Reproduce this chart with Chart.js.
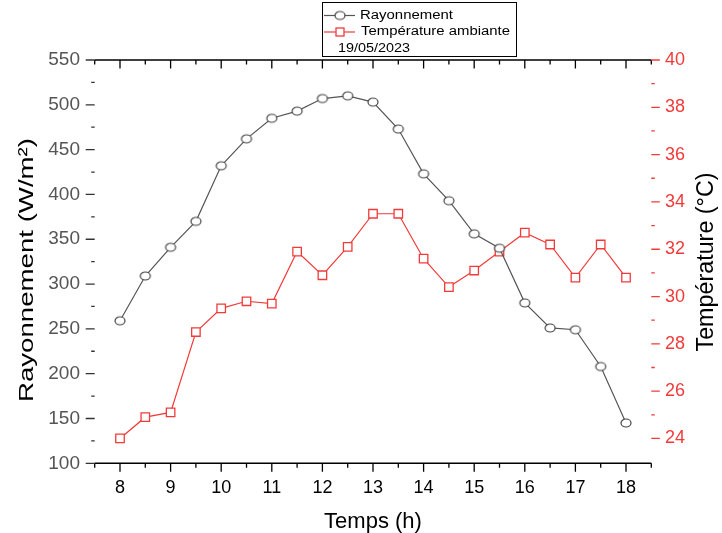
<!DOCTYPE html>
<html>
<head>
<meta charset="utf-8">
<script src="https://cdn.jsdelivr.net/npm/chart.js@4.4.0/dist/chart.umd.min.js"></script>
<style>
html,body{margin:0;padding:0;background:#fff;}
#wrap{width:722px;height:533px;position:relative;}
canvas{display:block;}
</style>
</head>
<body>
<div id="wrap"><canvas id="c" width="722" height="533"></canvas></div>
<script>
// ---- data ----
const hours = [8, 8.5, 9, 9.5, 10, 10.5, 11, 11.5, 12, 12.5, 13, 13.5, 14, 14.5, 15, 15.5, 16, 16.5, 17, 17.5, 18];
const rayonnement = [259, 309, 341, 370, 432, 462, 485, 493, 507, 510, 503, 473, 423, 393, 356, 340, 279, 251, 249, 208, 145];
const temperature = [24.0, 24.9, 25.1, 28.5, 29.5, 29.8, 29.7, 31.9, 30.9, 32.1, 33.5, 33.5, 31.6, 30.4, 31.1, 31.9, 32.7, 32.2, 30.8, 32.2, 30.8];

const xTicks = [8, 9, 10, 11, 12, 13, 14, 15, 16, 17, 18];
const xMinorTicks = [7.5, 8.5, 9.5, 10.5, 11.5, 12.5, 13.5, 14.5, 15.5, 16.5, 17.5, 18.5];
const leftTicks = [100, 150, 200, 250, 300, 350, 400, 450, 500, 550];
const leftMinorTicks = [125, 175, 225, 275, 325, 375, 425, 475, 525];
const rightTicks = [24, 26, 28, 30, 32, 34, 36, 38, 40];
const rightMinorTicks = [25, 27, 29, 31, 33, 35, 37, 39];

const xTitle = 'Temps (h)';
const leftTitle = 'Rayonnement (W/m²)';
const rightTitle = 'Température (°C)';
const legendLabels = ['Rayonnement', 'Température ambiante'];
const legendNote = '19/05/2023';

// ---- styles ----
const FONT = "'Liberation Sans', Arial, Helvetica, sans-serif";
const GRAY_LINE = '#555555';
const GRAY_MARK = '#444444';
const RED = 'rgb(242,58,58)';

function ellipseMarker(w, h, color, lw) {
  const c = document.createElement('canvas');
  c.width = w + 4; c.height = h + 4;
  const g = c.getContext('2d');
  g.beginPath();
  g.ellipse(c.width / 2, c.height / 2, w / 2, h / 2, 0, 0, Math.PI * 2);
  g.fillStyle = '#fff'; g.fill();
  g.lineWidth = lw; g.strokeStyle = color; g.stroke();
  return c;
}
const circleMarker = ellipseMarker(10, 8, GRAY_MARK, 1.2);

function drawText(ctx, text, x, y, rot, size, color, align, targetLen) {
  ctx.save();
  ctx.translate(x, y);
  ctx.rotate(rot);
  ctx.font = size + 'px ' + FONT;
  const w = ctx.measureText(text).width;
  const s = targetLen ? targetLen / w : 1;
  ctx.scale(s, 1);
  ctx.fillStyle = color;
  ctx.textAlign = align;
  ctx.textBaseline = 'middle';
  ctx.fillText(text, 0, 0);
  ctx.restore();
}

const decor = {
  id: 'decor',
  afterDraw(chart) {
    const {ctx, chartArea: a} = chart;
    const sx = chart.scales.x, sl = chart.scales.y, sr = chart.scales.y1;
    ctx.save();
    ctx.lineCap = 'butt';
    // top & bottom axis lines
    ctx.strokeStyle = '#000';
    ctx.lineWidth = 1.5;
    ctx.beginPath();
    ctx.moveTo(a.left, a.top); ctx.lineTo(a.right, a.top);
    ctx.moveTo(a.left, a.bottom); ctx.lineTo(a.right, a.bottom);
    ctx.stroke();
    // x ticks (top inward, bottom outward)
    ctx.lineWidth = 1.3;
    ctx.beginPath();
    xTicks.forEach(v => {
      const p = sx.getPixelForValue(v);
      ctx.moveTo(p, a.top); ctx.lineTo(p, a.top + 8.5);
      ctx.moveTo(p, a.bottom); ctx.lineTo(p, a.bottom + 8.5);
    });
    xMinorTicks.forEach(v => {
      const p = sx.getPixelForValue(v);
      ctx.moveTo(p, a.top); ctx.lineTo(p, a.top + 4.5);
      ctx.moveTo(p, a.bottom); ctx.lineTo(p, a.bottom + 4.5);
    });
    ctx.stroke();
    // left ticks
    ctx.strokeStyle = '#333';
    ctx.lineWidth = 1.3;
    ctx.beginPath();
    leftTicks.forEach(v => {
      const p = sl.getPixelForValue(v);
      ctx.moveTo(a.left - 9, p); ctx.lineTo(a.left, p);
    });
    leftMinorTicks.forEach(v => {
      const p = sl.getPixelForValue(v);
      ctx.moveTo(a.left - 3.5, p); ctx.lineTo(a.left, p);
    });
    ctx.stroke();
    // right ticks
    ctx.strokeStyle = RED;
    ctx.beginPath();
    rightTicks.forEach(v => {
      const p = sr.getPixelForValue(v);
      ctx.moveTo(a.right, p); ctx.lineTo(a.right + 8.5, p);
    });
    rightMinorTicks.forEach(v => {
      const p = sr.getPixelForValue(v);
      ctx.moveTo(a.right, p); ctx.lineTo(a.right + 3.5, p);
    });
    ctx.stroke();

    // axis titles (y)
    drawText(ctx, leftTitle, 27.6, 270, -Math.PI / 2, 21, '#000', 'center', 264);
    drawText(ctx, rightTitle, 707, 262, -Math.PI / 2, 23, '#000', 'center', 179);

    // legend box
    ctx.lineWidth = 1;
    ctx.strokeStyle = '#000';
    ctx.strokeRect(322.5, 2.5, 194, 54);
    // row 1
    ctx.strokeStyle = GRAY_LINE; ctx.lineWidth = 1.2;
    ctx.beginPath(); ctx.moveTo(324, 15.5); ctx.lineTo(355, 15.5); ctx.stroke();
    ctx.drawImage(circleMarker, 340 - circleMarker.width / 2, 15.5 - circleMarker.height / 2);
    drawText(ctx, legendLabels[0], 360, 15.5, 0, 12, '#000', 'left', 93);
    // row 2
    ctx.strokeStyle = RED; ctx.lineWidth = 1.2;
    ctx.beginPath(); ctx.moveTo(324, 32); ctx.lineTo(355, 32); ctx.stroke();
    ctx.fillStyle = '#fff';
    ctx.fillRect(336, 28, 8, 8);
    ctx.lineWidth = 1.3;
    ctx.strokeRect(336, 28, 8, 8);
    drawText(ctx, legendLabels[1], 361, 32, 0, 12, '#000', 'left', 149);
    // row 3
    drawText(ctx, legendNote, 338, 48.5, 0, 12, '#000', 'left', 72);
    ctx.restore();
  }
};

new Chart(document.getElementById('c'), {
  type: 'line',
  data: {
    datasets: [
      {
        label: legendLabels[0],
        data: hours.map((h, i) => ({x: h, y: rayonnement[i]})),
        yAxisID: 'y',
        borderColor: GRAY_LINE,
        borderWidth: 1.2,
        pointStyle: circleMarker,
        pointRadius: 5,
        tension: 0,
        fill: false
      },
      {
        label: legendLabels[1],
        data: hours.map((h, i) => ({x: h, y: temperature[i]})),
        yAxisID: 'y1',
        borderColor: RED,
        borderWidth: 1.2,
        pointStyle: 'rect',
        pointRadius: 6,
        pointBorderWidth: 1.3,
        pointBorderColor: RED,
        pointBackgroundColor: '#fff',
        tension: 0,
        fill: false
      }
    ]
  },
  options: {
    responsive: false,
    animation: false,
    devicePixelRatio: 1,
    events: [],
    layout: {padding: {top: 60, left: 0, right: 0, bottom: 0}},
    plugins: {legend: {display: false}, tooltip: {enabled: false}},
    scales: {
      x: {
        type: 'linear', position: 'bottom', min: 7.5, max: 18.5,
        afterBuildTicks: s => { s.ticks = xTicks.map(v => ({value: v})); },
        afterFit: s => { s.height = 69.7; },
        grid: {display: false, drawTicks: false},
        border: {display: false},
        ticks: {autoSkip: false, maxRotation: 0, padding: 14, color: '#000', font: {family: FONT, size: 18}},
        title: {display: true, text: xTitle, color: '#000', font: {family: FONT, size: 22, lineHeight: 1}, padding: {top: 0, bottom: 0.5}}
      },
      y: {
        type: 'linear', position: 'left', min: 100, max: 550,
        afterBuildTicks: s => { s.ticks = leftTicks.map(v => ({value: v})); },
        afterFit: s => { s.width = 94.7; },
        grid: {display: false, drawTicks: false},
        border: {display: false},
        ticks: {padding: 14.7, color: '#555', font: {family: FONT, size: 19}}
      },
      y1: {
        type: 'linear', position: 'right', min: 22.95, max: 40,
        afterBuildTicks: s => { s.ticks = rightTicks.map(v => ({value: v})); },
        afterFit: s => { s.width = 70.7; },
        grid: {display: false, drawTicks: false},
        border: {display: false},
        ticks: {padding: 13.7, color: RED, font: {family: FONT, size: 18}}
      }
    }
  },
  plugins: [decor]
});
</script>
</body>
</html>
